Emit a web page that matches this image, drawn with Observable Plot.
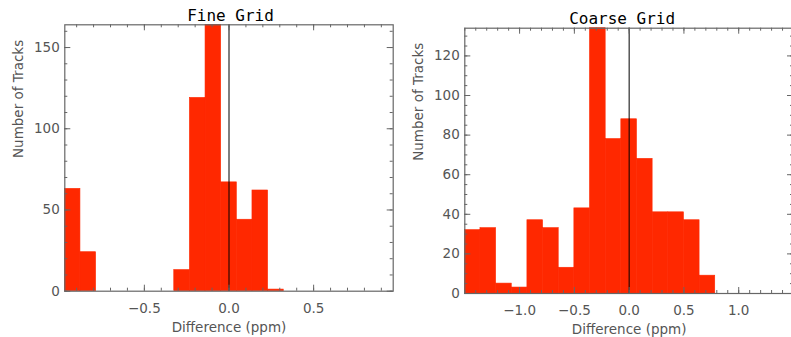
<!DOCTYPE html>
<html>
<head>
<meta charset="utf-8">
<script src="https://cdn.jsdelivr.net/npm/d3@7"></script>
<script src="https://cdn.jsdelivr.net/npm/@observablehq/plot@0.6"></script>
<style>
  html, body { margin: 0; padding: 0; background: #fff; }
  #wrap { position: relative; width: 791px; height: 337px; overflow: hidden; background: #fff; }
  .panel { position: absolute; top: 0; width: 400px; height: 337px; }
  .panel svg { overflow: visible; max-width: none !important; width: 400px; height: 337px; }
</style>
</head>
<body>
<div id="wrap">
  <div class="panel" id="left" style="left:0px"></div>
  <div class="panel" id="right" style="left:400px"></div>
</div>
<script>
// ---- data ----
const fineTitle = "Fine Grid";
const coarseTitle = "Coarse Grid";
const xLabel = "Difference (ppm)";
const yLabel = "Number of Tracks";

// 21 equal-width bins over each histogram range
const fineRange = [-0.97, 0.97];
const fineCounts = [63, 24, 0, 0, 0, 0, 0, 13, 119, 164, 67, 44, 62, 1, 0, 0, 0, 0, 0, 0, 0];

const coarseRange = [-1.5, 1.5];
const coarseCounts = [32, 33, 5, 3, 37, 33, 13, 43, 134, 78, 88, 68, 41, 41, 37, 9, 0, 0, 0, 0, 0];

const fineXTickLabels = [-0.5, 0.0, 0.5];
const coarseXTickLabels = [-1.0, -0.5, 0.0, 0.5, 1.0];
const fineYTickLabels = [0, 50, 100, 150];
const coarseYTickLabels = [0, 20, 40, 60, 80, 100, 120];
const fineYMinorStep = 10;
const coarseYMinorStep = 5;
const xMinorStep = 0.1;

// ---- drawing ----
const BAR = "#ff2800";
const AXIS = "#666";
const TXT = "#555";
const H = 337;

function panel({counts, range, title, xLabels, yLabels, yMinorStep, W, ml, mr, mt, mb, titleDx}) {
  const n = counts.length;
  const bw = (range[1] - range[0]) / n;
  const bins = counts.map((c, i) => ({x1: range[0] + i * bw, x2: range[0] + (i + 1) * bw, y: c}));
  const ymax = d3.max(counts);
  const fh = H - mt - mb;
  const fw = W - ml - mr;
  const xMinor = d3.range(Math.ceil(range[0] / xMinorStep - 1e-9), Math.floor(range[1] / xMinorStep + 1e-9) + 1)
    .map(k => +(k * xMinorStep).toFixed(6));
  const yMinor = d3.range(0, ymax + 1e-9, yMinorStep);
  const fmtX = d3.format(".1f");
  return Plot.plot({
    width: W, height: H,
    marginLeft: ml, marginRight: mr, marginTop: mt, marginBottom: mb,
    x: {domain: range, axis: null},
    y: {domain: [0, ymax], axis: null},
    style: {fontFamily: "'DejaVu Sans', sans-serif", fontSize: "13.5px", color: TXT, background: "transparent"},
    marks: [
      Plot.rectY(bins.filter(d => d.y > 0), {x1: "x1", x2: "x2", y: "y", fill: BAR, stroke: BAR, strokeWidth: 0.6}),
      Plot.ruleX([0], {stroke: "#000", strokeWidth: 1}),
      // x ticks bottom & top
      Plot.tickX(xMinor, {x: d => d, stroke: AXIS, insetTop: fh - 3}),
      Plot.tickX(xMinor, {x: d => d, stroke: AXIS, insetBottom: fh - 3}),
      Plot.tickX(xLabels, {x: d => d, stroke: AXIS, insetTop: fh - 6}),
      Plot.tickX(xLabels, {x: d => d, stroke: AXIS, insetBottom: fh - 6}),
      // y ticks left & right
      Plot.tickY(yMinor, {y: d => d, stroke: AXIS, insetRight: fw - 3}),
      Plot.tickY(yMinor, {y: d => d, stroke: AXIS, insetLeft: fw - 3}),
      Plot.tickY(yLabels, {y: d => d, stroke: AXIS, insetRight: fw - 6}),
      Plot.tickY(yLabels, {y: d => d, stroke: AXIS, insetLeft: fw - 6}),
      Plot.frame({stroke: AXIS, strokeWidth: 1.2}),
      // tick labels
      Plot.text(xLabels, {x: d => d, text: d => fmtX(d), frameAnchor: "bottom", dy: 17, lineAnchor: "middle", fill: TXT}),
      Plot.text(yLabels, {y: d => d, text: d => String(d), frameAnchor: "left", dx: -5, textAnchor: "end", lineAnchor: "middle", fill: TXT}),
      // axis titles
      Plot.text([xLabel], {frameAnchor: "bottom", dy: 36, lineAnchor: "middle", fill: TXT}),
      Plot.text([yLabel], {frameAnchor: "left", dx: -46, rotate: -90, lineAnchor: "middle", fill: TXT}),
      // panel title
      Plot.text([title], {frameAnchor: "top", dy: -4, dx: titleDx, lineAnchor: "bottom", fill: "#000",
        fontFamily: "'DejaVu Sans Mono', monospace", fontSize: 16})
    ]
  });
}

document.getElementById("left").appendChild(panel({
  counts: fineCounts, range: fineRange, title: fineTitle,
  xLabels: fineXTickLabels, yLabels: fineYTickLabels, yMinorStep: fineYMinorStep,
  W: 400, ml: 64.3, mr: 7.3, mt: 24.3, mb: 46.3, titleDx: 1.5
}));
document.getElementById("right").appendChild(panel({
  counts: coarseCounts, range: coarseRange, title: coarseTitle,
  xLabels: coarseXTickLabels, yLabels: coarseYTickLabels, yMinorStep: coarseYMinorStep,
  W: 400, ml: 64.3, mr: 7, mt: 27.7, mb: 44, titleDx: -7
}));
</script>
</body>
</html>
